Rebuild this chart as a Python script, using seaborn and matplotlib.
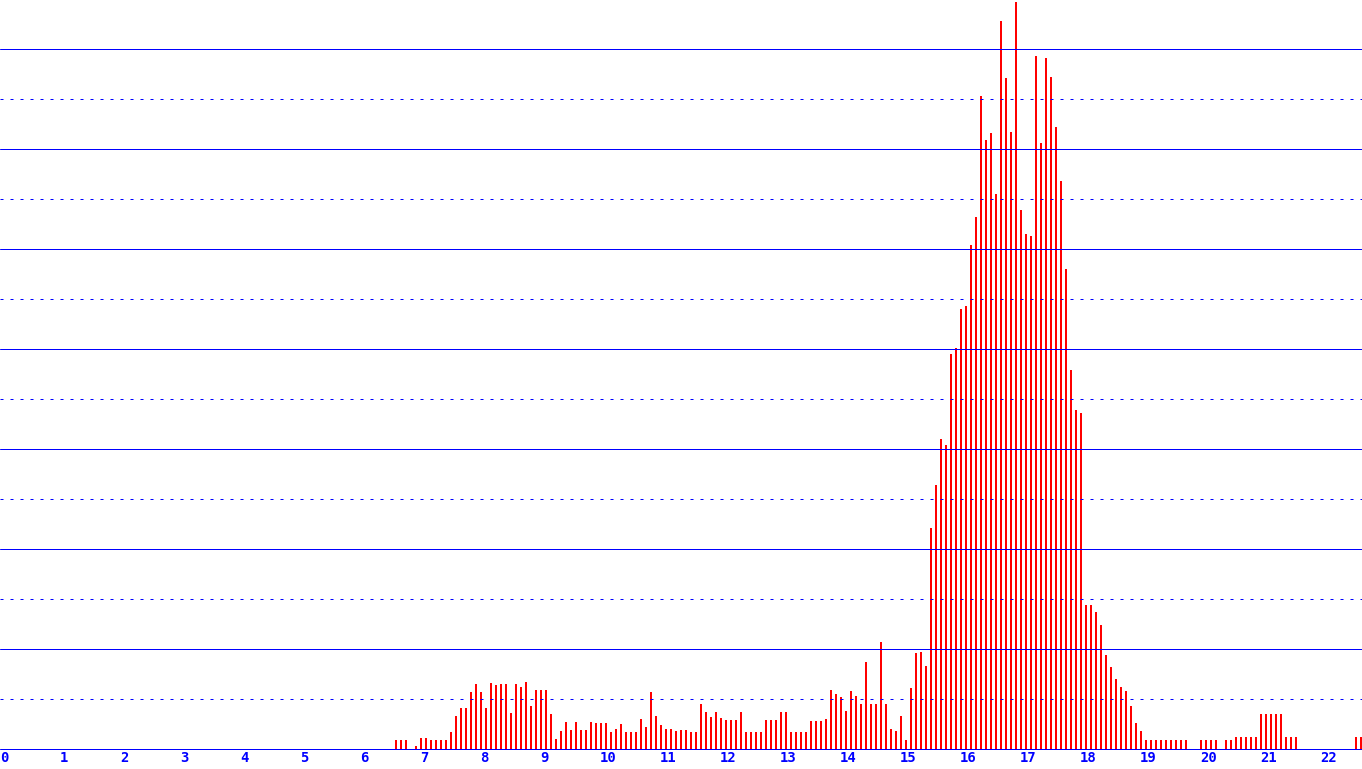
import numpy as np
import pandas as pd
import seaborn as sns
import matplotlib.pyplot as plt

# bins are 1/12 unit wide; first drawn bin is number 79 (x = 79/12)
first_bin = 79

# heights in grid units (one dotted/solid grid step = 1)
h_low_a = [0.18, 0.18, 0.18, 0.00, 0.06, 0.22, 0.22, 0.18, 0.18, 0.18, 0.18,
           0.34, 0.66, 0.82, 0.82, 1.14, 1.30, 1.14, 0.82, 1.32, 1.28, 1.30,
           1.30, 0.72, 1.30, 1.24, 1.34, 0.86, 1.18, 1.18, 1.18, 0.70, 0.20,
           0.36, 0.54, 0.38, 0.54, 0.38, 0.38, 0.54, 0.52, 0.52, 0.52, 0.34,
           0.40, 0.50, 0.34, 0.34, 0.34, 0.60, 0.44, 1.14, 0.66, 0.48, 0.40,
           0.40, 0.36, 0.38, 0.38, 0.34, 0.34, 0.90, 0.74]
h_low_b = [0.64, 0.74, 0.62, 0.58, 0.58, 0.58, 0.74, 0.34, 0.34, 0.34, 0.34,
           0.58, 0.58, 0.58, 0.74, 0.74, 0.34, 0.34, 0.34, 0.34, 0.56, 0.56,
           0.56, 0.60, 1.18, 1.10, 1.04, 0.76, 1.16, 1.06, 0.90, 1.74, 0.90,
           0.90, 2.14, 0.90, 0.40, 0.36, 0.66, 0.18, 1.22, 1.92, 1.94, 1.66]
h_peak = [4.42, 5.28, 6.20, 6.08, 7.90, 8.02, 8.80, 8.86, 10.08, 10.64, 13.06,
          12.18, 12.32, 11.10, 14.56, 13.42, 12.34, 14.94, 10.78, 10.30, 10.26,
          13.86, 12.12, 13.82, 13.44, 12.44, 11.36, 9.60, 7.58, 6.78, 6.72,
          2.88, 2.88]
h_tail = [2.74, 2.48, 1.88, 1.64, 1.40, 1.24, 1.16, 0.86, 0.52, 0.36,
          0.18, 0.18, 0.18, 0.18, 0.18, 0.18, 0.18, 0.18, 0.18, 0.00, 0.00,
          0.18, 0.18, 0.18, 0.18, 0.00, 0.18, 0.18,
          0.24, 0.24, 0.24, 0.24, 0.24, 0.70, 0.70, 0.70, 0.70, 0.70,
          0.24, 0.24, 0.24,
          0.00, 0.00, 0.00, 0.00, 0.00, 0.00, 0.00, 0.00, 0.00, 0.00, 0.00,
          0.24, 0.24]
x_ticks = list(range(23))

heights = h_low_a + h_low_b + h_peak + h_tail
bins = first_bin + np.arange(len(heights))
df = pd.DataFrame({'x': (bins + 0.2) / 12.0, 'h': heights})

sns.set_theme(style="white")
plt.rcParams['font.family'] = ['DejaVu Sans Mono', 'DejaVu Sans']
plt.rcParams['lines.scale_dashes'] = False

W, H = 1362, 769
fig = plt.figure(figsize=(W / 100, H / 100), dpi=100)
fig.patch.set_facecolor('white')
ax = fig.add_axes([0, 20 / H, 1, 749 / H])
ax.set_facecolor('white')

sns.barplot(data=df, x='x', y='h', native_scale=True, width=0.4,
            color='#ff0000', saturation=1, linewidth=0, ax=ax, zorder=2)
for p in ax.patches:
    p.set_antialiased(False)

blue = '#0000ff'
lw = 0.72
for lvl in range(1, 15):
    if lvl % 2 == 0:
        ax.axhline(lvl, color=blue, lw=lw, zorder=3)
    else:
        ax.axhline(lvl, color=blue, lw=lw, zorder=3, dashes=(2.16, 5.04))
ax.axhline(0, color=blue, lw=lw, zorder=3, clip_on=False)

ax.set_xlim(0, W / 60)
ax.set_ylim(0, 749 / 50)
ax.set_yticks([])
ax.set_xticks(x_ticks)
ax.set_xticklabels([str(t) for t in x_ticks], ha='left', color=blue,
                   fontsize=10, fontweight='bold')
ax.tick_params(axis='x', length=0, pad=1.5)
ax.set_xlabel('')
ax.set_ylabel('')
for s in ax.spines.values():
    s.set_visible(False)

fig.savefig('out.png', dpi=100, facecolor='white')
